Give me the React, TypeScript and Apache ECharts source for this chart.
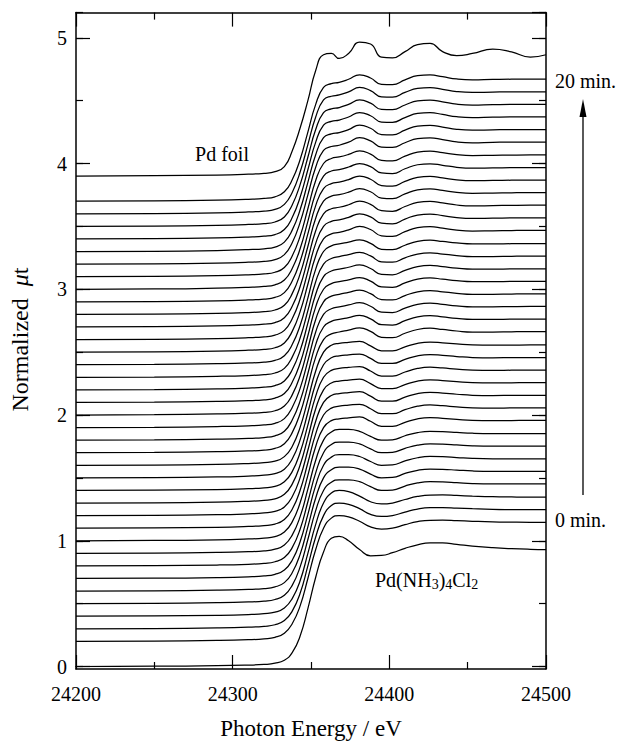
import React, { useEffect, useRef } from 'react';
import * as echarts from 'echarts';

// Photon energy grid (eV) shared by all spectra
const energy = [24200, 24250, 24290, 24310, 24320, 24327, 24333, 24338, 24343, 24348, 24353, 24358, 24363, 24368, 24374, 24381, 24388, 24395, 24402, 24410, 24418, 24426, 24434, 24443, 24453, 24466, 24478, 24490, 24500];

// Reference Pd(NH3)4Cl2 spectrum (offset 0)
const ammineOffset = 0;
const ammineSpectrum = [0.0, 0.002, 0.006, 0.011, 0.016, 0.026, 0.05, 0.11, 0.24, 0.46, 0.71, 0.91, 1.02, 1.035, 1.0, 0.93, 0.88, 0.883, 0.905, 0.94, 0.968, 0.983, 0.983, 0.972, 0.958, 0.945, 0.937, 0.932, 0.93];

// Reference Pd foil spectrum (offset 3.9)
const foilOffset = 3.9;
const foilSpectrum = [0.0, 0.003, 0.008, 0.015, 0.022, 0.035, 0.075, 0.2, 0.38, 0.6, 0.84, 0.965, 0.975, 0.935, 0.975, 1.065, 1.05, 0.945, 0.94, 0.99, 1.045, 1.055, 0.99, 0.958, 0.975, 1.01, 0.988, 0.946, 0.965];

// In-situ spectra, read as six shape groups (0 min -> 20 min)
const insituA = [0.0, 0.002, 0.007, 0.013, 0.02, 0.032, 0.065, 0.14, 0.28, 0.5, 0.73, 0.9, 0.98, 1.0, 0.99, 0.955, 0.91, 0.893, 0.9, 0.928, 0.952, 0.963, 0.964, 0.96, 0.955, 0.95, 0.948, 0.947, 0.947];
const insituB = [0.0, 0.002, 0.007, 0.013, 0.02, 0.033, 0.067, 0.145, 0.29, 0.51, 0.74, 0.9, 0.965, 0.985, 0.985, 0.97, 0.93, 0.9, 0.903, 0.935, 0.96, 0.97, 0.968, 0.962, 0.955, 0.952, 0.952, 0.952, 0.952];
const insituC = [0.0, 0.002, 0.007, 0.014, 0.021, 0.033, 0.069, 0.15, 0.3, 0.52, 0.75, 0.9, 0.955, 0.97, 0.978, 0.985, 0.95, 0.91, 0.91, 0.942, 0.97, 0.98, 0.974, 0.965, 0.957, 0.955, 0.956, 0.957, 0.957];
const insituD = [0.0, 0.002, 0.008, 0.014, 0.021, 0.034, 0.071, 0.16, 0.31, 0.53, 0.76, 0.9, 0.945, 0.96, 0.975, 0.993, 0.965, 0.918, 0.915, 0.95, 0.98, 0.99, 0.98, 0.968, 0.96, 0.96, 0.962, 0.963, 0.963];
const insituE = [0.0, 0.002, 0.008, 0.015, 0.022, 0.035, 0.073, 0.165, 0.32, 0.54, 0.765, 0.9, 0.94, 0.952, 0.972, 1.0, 0.975, 0.925, 0.92, 0.958, 0.99, 0.998, 0.986, 0.97, 0.963, 0.965, 0.967, 0.968, 0.968];
const insituF = [0.0, 0.002, 0.008, 0.015, 0.022, 0.035, 0.075, 0.17, 0.33, 0.55, 0.77, 0.905, 0.935, 0.945, 0.97, 1.005, 0.98, 0.93, 0.928, 0.965, 0.998, 1.004, 0.99, 0.972, 0.965, 0.968, 0.97, 0.97, 0.97];

const insituOffsets = [0.2, 0.3, 0.4, 0.5, 0.6, 0.7, 0.8, 0.9, 1.0, 1.1, 1.2, 1.3, 1.4, 1.5, 1.6, 1.7, 1.8, 1.9, 2.0, 2.1, 2.2, 2.3, 2.4, 2.5, 2.6, 2.7, 2.8, 2.9, 3.0, 3.1, 3.2, 3.3, 3.4, 3.5, 3.6, 3.7];
const insituShapeOf = ['A', 'A', 'A', 'B', 'B', 'B', 'B', 'B', 'C', 'C', 'C', 'C', 'C', 'C', 'C', 'D', 'D', 'D', 'D', 'D', 'D', 'D', 'D', 'E', 'E', 'E', 'E', 'E', 'E', 'E', 'F', 'F', 'F', 'F', 'F', 'F'];

const xMin = 24200;
const xMax = 24500;
const yMin = 0;
const yMax = 5.2;

const FONT = 'Liberation Serif';

export default function App() {
  const ref = useRef<HTMLDivElement>(null);

  useEffect(() => {
    if (!ref.current) return;
    const chart = echarts.init(ref.current, null, { renderer: 'svg' });

    const shapes: Record<string, number[]> = { A: insituA, B: insituB, C: insituC, D: insituD, E: insituE, F: insituF };
    const mk = (offset: number, spec: number[], name: string) => ({
      type: 'line',
      name,
      xAxisIndex: 0,
      yAxisIndex: 0,
      data: energy.map((e, i) => [e, +(offset + spec[i]).toFixed(4)]),
      smooth: 0.5,
      showSymbol: false,
      symbol: 'none',
      silent: true,
      lineStyle: { color: '#000', width: 1.25 },
    });

    const series: any[] = [mk(ammineOffset, ammineSpectrum, 'Pd(NH3)4Cl2')];
    insituOffsets.forEach((o, k) => series.push(mk(o, shapes[insituShapeOf[k]], 'insitu' + k)));
    series.push(mk(foilOffset, foilSpectrum, 'Pd foil'));

    const tickLine = { color: '#000', width: 1.2 };
    const axisLineOn = { show: true, onZero: false, lineStyle: { color: '#000', width: 1.5 } };

    const yMajor = (position: string, withLabel: boolean) => ({
      type: 'value', position, min: yMin, max: yMax, interval: 1,
      axisLine: axisLineOn,
      axisTick: { show: true, inside: true, length: 14, lineStyle: tickLine },
      splitLine: { show: false },
      axisLabel: withLabel
        ? { show: true, fontFamily: FONT, fontSize: 20, color: '#000', margin: 9, showMaxLabel: false, formatter: (v: number) => (Number.isInteger(v) ? String(v) : '') }
        : { show: false },
    });
    const yMinor = (position: string) => ({
      type: 'value', position, min: yMin, max: yMax, interval: 0.5,
      axisLine: { show: false },
      axisTick: { show: true, inside: true, length: 7, lineStyle: tickLine },
      splitLine: { show: false },
      axisLabel: { show: false },
    });

    const option: any = {
      animation: false,
      backgroundColor: '#fff',
      textStyle: { fontFamily: FONT },
      grid: { left: 76, right: 76, top: 12.6, bottom: 79.5 },
      xAxis: [
        {
          type: 'value', position: 'bottom', offset: 2.5, min: xMin, max: xMax, interval: 100,
          axisLine: axisLineOn,
          axisTick: { show: true, inside: true, length: 14, lineStyle: tickLine },
          minorTick: { show: true, splitNumber: 2, length: 7, lineStyle: tickLine },
          splitLine: { show: false }, minorSplitLine: { show: false },
          axisLabel: { fontFamily: FONT, fontSize: 20, color: '#000', margin: 15, formatter: (v: number) => String(v) },
          name: 'Photon Energy / eV', nameLocation: 'middle', nameGap: 48,
          nameTextStyle: { fontFamily: FONT, fontSize: 23, color: '#000' },
        },
        {
          type: 'value', position: 'top', min: xMin, max: xMax, interval: 100,
          axisLine: axisLineOn,
          axisTick: { show: true, inside: true, length: 14, lineStyle: tickLine },
          minorTick: { show: true, splitNumber: 2, length: 7, lineStyle: tickLine },
          splitLine: { show: false }, axisLabel: { show: false },
        },
      ],
      yAxis: [
        {
          ...yMajor('left', true),
          name: 'Normalized  {i|μ}t', nameLocation: 'middle', nameGap: 44,
          nameTextStyle: { fontFamily: FONT, fontSize: 24, color: '#000', rich: { i: { fontFamily: FONT, fontSize: 24, fontStyle: 'italic', color: '#000' } } },
        },
        yMinor('left'),
        yMajor('right', false),
        yMinor('right'),
      ],
      series,
      graphic: [
        { type: 'line', shape: { x1: 76, y1: 666, x2: 76, y2: 669.5 }, style: { stroke: '#000', lineWidth: 1.5 } },
        { type: 'line', shape: { x1: 546, y1: 666, x2: 546, y2: 669.5 }, style: { stroke: '#000', lineWidth: 1.5 } },
        { type: 'text', x: 222, y: 154, style: { text: 'Pd foil', fontFamily: FONT, fontSize: 20, fill: '#000', align: 'center', verticalAlign: 'middle' } },
        {
          type: 'text', x: 375, y: 580,
          style: {
            text: '{m|Pd(NH}{s|3}{m|)}{s|4}{m|Cl}{s|2}',
            verticalAlign: 'middle', align: 'left', fill: '#000',
            rich: {
              m: { fontFamily: FONT, fontSize: 20, lineHeight: 22, verticalAlign: 'middle', fill: '#000' },
              s: { fontFamily: FONT, fontSize: 14, lineHeight: 10, verticalAlign: 'bottom', fill: '#000' },
            },
          },
        },
        { type: 'text', x: 555, y: 81, style: { text: '20 min.', fontFamily: FONT, fontSize: 20, fill: '#000', align: 'left', verticalAlign: 'middle' } },
        { type: 'text', x: 555, y: 520, style: { text: '0 min.', fontFamily: FONT, fontSize: 20, fill: '#000', align: 'left', verticalAlign: 'middle' } },
        { type: 'line', shape: { x1: 583, y1: 495, x2: 583, y2: 112 }, style: { stroke: '#000', lineWidth: 1.3 } },
        { type: 'polygon', shape: { points: [[583, 99], [579.5, 117], [586.5, 117]] }, style: { fill: '#000' } },
      ],
    };

    chart.setOption(option);
    return () => chart.dispose();
  }, []);

  return <div ref={ref} style={{ position: 'absolute', left: 0, top: 0, width: 622, height: 746 }} />;
}
